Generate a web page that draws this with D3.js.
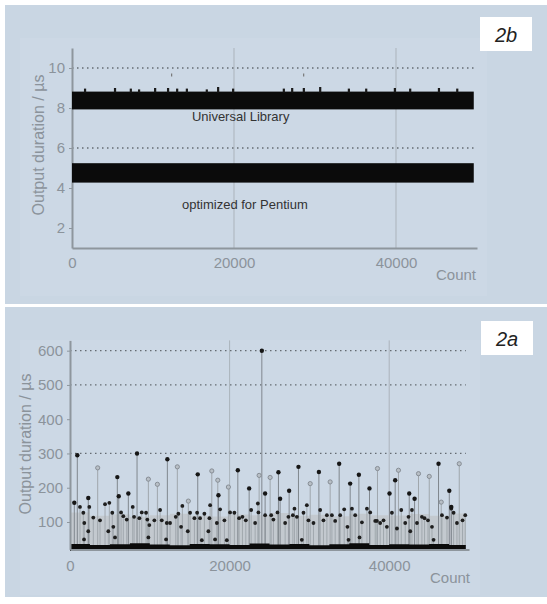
<!DOCTYPE html>
<html><head><meta charset="utf-8">
<script src="https://cdn.jsdelivr.net/npm/d3@7"></script>
<style>
body{margin:0;background:#fff;}
svg{display:block;font-family:"Liberation Sans",Arial,Helvetica,sans-serif;}
</style>
</head><body>
<svg id="c" width="547" height="604"></svg>
<script>
// ---------------- DATA ----------------
const xTicks = [0, 20000, 40000];
const vGridCounts = [20000, 40000];
const xLabel = "Count";
const yLabel = "Output duration / µs";

// Panel 2b (top)
const yTicksB = [2, 4, 6, 8, 10];
const gridB = [6, 10];
const universalRange = [7.93, 8.82];
const pentiumRange = [4.27, 5.24];
const bandEnd = 49600;
const ulSpikeCounts = [1600, 5300, 7250, 8270, 10250, 11850, 12970, 14170, 16630, 18030, 19880, 26140, 27170, 28610, 30630, 34170, 36310, 39850, 41740, 45290, 47550];
const ulSpikeValues = [8.97, 9.0, 8.97, 8.93, 9.0, 9.0, 8.97, 8.97, 8.93, 9.05, 8.97, 8.97, 9.0, 9.0, 9.05, 8.97, 8.97, 9.0, 8.97, 9.0, 8.97];
const ulOutlierCounts = [12300, 28600];
const ulOutlierValues = [9.65, 9.65];
const bandLabels = ["Universal Library", "optimized for Pentium"];
const bandLabelCounts = [14800, 13580];
const bandLabelValues = [7.33, 2.93];

// Panel 2a (bottom)
const yTicksA = [100, 200, 300, 400, 500, 600];
const gridA = [300, 500, 600];
const envCounts = [0, 2500, 5000, 7500, 10000, 12500, 15000, 17500, 20000, 22500, 25000, 27500, 30000, 32500, 35000, 37500, 40000, 42500, 45000, 47500, 49600];
const grayTop  = [128, 118, 122, 115, 120, 124, 118, 116, 122, 120, 126, 118, 121, 117, 124, 120, 119, 123, 118, 125, 125];
const floorTop = [36, 33, 35, 38, 34, 32, 36, 35, 33, 37, 34, 36, 32, 35, 38, 33, 35, 34, 36, 33, 33];
const floorLow = 15;

const darkCounts = [540, 915, 2290, 5930, 6110, 7310, 8400, 12200, 16010, 18600, 21030, 22450, 24040, 24450, 26120, 26330, 27460, 28630, 31190, 33730, 35110, 36200, 37530, 40040, 40750, 42510, 43180, 46180, 47530, 47780];
const darkValues = [156, 295, 170, 231, 175, 183, 300, 283, 239, 178, 251, 198, 600, 183, 245, 168, 191, 261, 246, 270, 212, 238, 198, 183, 222, 183, 168, 270, 191, 144];

const lightCounts = [3470, 9820, 10950, 13450, 14830, 17770, 18520, 19850, 23700, 25080, 30100, 32600, 38530, 41160, 43670, 45020, 46520, 48780];
const lightValues = [258, 225, 210, 261, 161, 249, 222, 202, 236, 230, 212, 217, 256, 251, 241, 233, 158, 270];

const midCounts = [1250, 1670, 1790, 1760, 2290, 2420, 2920, 3760, 4390, 4930, 4800, 5300, 5430, 5640, 6400, 6680, 7110, 7860, 8030, 8690, 8990, 9530, 9690, 9940, 9820, 10570, 11290, 11500, 12130, 12040,
  12540, 13250, 13580, 14080, 13920, 14760, 15050, 15590, 15930, 16300, 16520, 16840, 17340, 17470, 17560, 18180, 18400, 18810, 19350, 19650, 20060, 20600, 21190, 21610, 22030, 22700, 23200, 23610, 23540, 24450, 25210,
  25490, 26000, 26960, 27370, 27930, 28130, 28430, 29050, 29260, 29680, 29880, 30510, 31350, 31760, 32190, 32820, 33230, 33860, 34360, 34770, 34900, 35330, 35740, 36280, 36580, 37210, 37620, 38250,
  38460, 38870, 39290, 39710, 40340, 40970, 41510, 42010, 42420, 42640, 42850, 43480, 44100, 44430, 44860, 45360, 45560, 46610, 47240, 47780, 48070, 48490, 49190, 49530];
const midValues = [144, 127, 97, 49, 73, 144, 113, 105, 152, 156, 73, 127, 86, 55, 128, 117, 107, 144, 115, 111, 128, 127, 107, 91, 55, 105, 135, 105, 97, 49,
  97, 115, 124, 147, 86, 73, 127, 111, 127, 111, 47, 124, 73, 111, 149, 49, 97, 137, 105, 47, 128, 127, 111, 115, 105, 135, 97, 128, 154, 120, 120,
  107, 128, 97, 115, 120, 139, 115, 48, 127, 149, 105, 97, 135, 105, 120, 120, 103, 120, 137, 86, 48, 139, 120, 55, 99, 139, 128, 103,
  103, 97, 105, 86, 127, 81, 135, 97, 115, 73, 135, 97, 115, 111, 105, 86, 48, 120, 113, 139, 127, 97, 105, 120];

// ---------------- DRAW ----------------
const svg = d3.select("#c");
const outerBg = "#c9d6e3", innerBg = "#ccd8e5";
const tickColor = "#8b939b", axisColor = "#8e969d";

svg.append("rect").attr("width", 547).attr("height", 604).attr("fill", "#fff");
svg.append("rect").attr("x", 5).attr("y", 5).attr("width", 542).attr("height", 299).attr("fill", outerBg);
svg.append("rect").attr("x", 5).attr("y", 307).attr("width", 542).attr("height", 290).attr("fill", outerBg);
svg.append("rect").attr("x", 20).attr("y", 38).attr("width", 467).attr("height", 258).attr("fill", innerBg);
svg.append("rect").attr("x", 20).attr("y", 340).attr("width", 460).attr("height", 255).attr("fill", innerBg);

function styleAxis(g) {
  g.select(".domain").attr("stroke", axisColor).attr("stroke-width", 2);
  g.selectAll(".tick line").attr("stroke", axisColor).attr("stroke-width", 1);
  g.selectAll(".tick text").attr("fill", tickColor).attr("font-size", 15)
    .attr("font-family", '"Liberation Sans",Arial,sans-serif');
}

function panelTag(x, y, label) {
  svg.append("rect").attr("x", x).attr("y", y).attr("width", 52).attr("height", 34).attr("fill", "#fff");
  svg.append("text").attr("x", x + 26).attr("y", y + 25).attr("text-anchor", "middle")
    .attr("font-size", 20).attr("font-style", "italic").attr("fill", "#222").text(label);
}

// ===== Panel 2b =====
{
  const x = d3.scaleLinear().domain([0, 50000]).range([72, 477]);
  const y = d3.scaleLinear().domain([1, 11]).range([248, 48]);
  const g = svg.append("g");

  g.selectAll(".vg").data(vGridCounts).join("line")
    .attr("x1", d => x(d)).attr("x2", d => x(d)).attr("y1", y(11)).attr("y2", y(1))
    .attr("stroke", "#abb3bb").attr("stroke-width", 1);
  g.selectAll(".hg").data(gridB).join("line")
    .attr("x1", x(0)).attr("x2", x(50000)).attr("y1", d => y(d)).attr("y2", d => y(d))
    .attr("stroke", "#646b72").attr("stroke-width", 1.3).attr("stroke-dasharray", "1.5,3.5");

  const ya = g.append("g").attr("transform", `translate(${x(0)},0)`)
    .call(d3.axisLeft(y).tickValues(yTicksB).tickSize(3).tickSizeOuter(0).tickPadding(4));
  styleAxis(ya);
  const xa = g.append("g").attr("transform", `translate(0,${y(1)})`)
    .call(d3.axisBottom(x).tickValues(xTicks).tickSize(0).tickSizeOuter(0).tickPadding(9).tickFormat(d3.format("d")));
  styleAxis(xa);

  [universalRange, pentiumRange].forEach(r => {
    g.append("rect").attr("x", x(0)).attr("width", x(bandEnd) - x(0))
      .attr("y", y(r[1])).attr("height", y(r[0]) - y(r[1])).attr("fill", "#0b0b0b");
  });
  g.selectAll(".sp").data(ulSpikeCounts).join("rect")
    .attr("x", d => x(d) - 1).attr("width", 2.2)
    .attr("y", (d, i) => y(ulSpikeValues[i])).attr("height", (d, i) => y(universalRange[1]) - y(ulSpikeValues[i]) + 1)
    .attr("fill", "#1a1a1a");
  g.selectAll(".out").data(ulOutlierCounts).join("line")
    .attr("x1", d => x(d)).attr("x2", d => x(d))
    .attr("y1", (d, i) => y(ulOutlierValues[i]) - 1.5).attr("y2", (d, i) => y(ulOutlierValues[i]) + 1.5)
    .attr("stroke", "#777").attr("stroke-width", 1.2);

  g.selectAll(".bl").data(bandLabels).join("text")
    .attr("x", (d, i) => x(bandLabelCounts[i])).attr("y", (d, i) => y(bandLabelValues[i]))
    .attr("font-size", 13).attr("fill", "#333").text(d => d);

  g.append("text").attr("x", 476).attr("y", 280).attr("text-anchor", "end")
    .attr("font-size", 15).attr("fill", tickColor).text(xLabel);
  g.append("text").attr("transform", "translate(38,145) rotate(-90)").attr("text-anchor", "middle")
    .attr("dominant-baseline", "central").attr("font-size", 16).attr("fill", tickColor).text(yLabel);

  panelTag(480, 17, "2b");
}

// ===== Panel 2a =====
{
  const x = d3.scaleLinear().domain([0, 50000]).range([70, 469]);
  const y = d3.scaleLinear().domain([20, 630]).range([549.4, 340.4]);
  const g = svg.append("g");

  g.selectAll(".vg").data(vGridCounts).join("line")
    .attr("x1", d => x(d)).attr("x2", d => x(d)).attr("y1", y(630)).attr("y2", y(20))
    .attr("stroke", "#abb3bb").attr("stroke-width", 1);
  g.selectAll(".hg").data(gridA).join("line")
    .attr("x1", x(0)).attr("x2", x(49600)).attr("y1", d => y(d)).attr("y2", d => y(d))
    .attr("stroke", "#646b72").attr("stroke-width", 1.3).attr("stroke-dasharray", "1.5,3.5");

  const env = envCounts.map((c, i) => ({c, top: grayTop[i], fl: floorTop[i]}));
  g.append("path").datum(env)
    .attr("d", d3.area().curve(d3.curveStepAfter).x(d => x(d.c)).y0(y(20)).y1(d => y(d.top)))
    .attr("fill", "#c3c9cf");

  const stemBase = y(30);
  g.selectAll(".ms").data(midCounts).join("line")
    .attr("x1", d => x(d)).attr("x2", d => x(d)).attr("y1", stemBase).attr("y2", (d, i) => y(midValues[i]))
    .attr("stroke", "#a1a8ae").attr("stroke-width", 1);
  g.selectAll(".ls").data(lightCounts).join("line")
    .attr("x1", d => x(d)).attr("x2", d => x(d)).attr("y1", stemBase).attr("y2", (d, i) => y(lightValues[i]))
    .attr("stroke", "#9fa6ac").attr("stroke-width", 1);
  g.selectAll(".ds").data(darkCounts).join("line")
    .attr("x1", d => x(d)).attr("x2", d => x(d)).attr("y1", stemBase).attr("y2", (d, i) => y(darkValues[i]))
    .attr("stroke", "#80878e").attr("stroke-width", 1);

  g.append("path").datum(env)
    .attr("d", d3.area().curve(d3.curveStepAfter).x(d => x(d.c)).y0(y(floorLow)).y1(d => y(d.fl)))
    .attr("fill", "#0b0b0b");

  const ya = g.append("g").attr("transform", `translate(${x(0)},0)`)
    .call(d3.axisLeft(y).tickValues(yTicksA).tickSize(3).tickSizeOuter(0).tickPadding(4));
  styleAxis(ya);
  const xa = g.append("g").attr("transform", `translate(0,${y(20)})`)
    .call(d3.axisBottom(x).tickValues(xTicks).tickSize(0).tickSizeOuter(0).tickPadding(11).tickFormat(d3.format("d")));
  styleAxis(xa);

  g.selectAll(".mm").data(midCounts).join("circle")
    .attr("cx", d => x(d)).attr("cy", (d, i) => y(midValues[i])).attr("r", 1.9)
    .attr("fill", "#1e1e1e");
  g.selectAll(".lm").data(lightCounts).join("circle")
    .attr("cx", d => x(d)).attr("cy", (d, i) => y(lightValues[i])).attr("r", 2.1)
    .attr("fill", "#b8bfc6").attr("stroke", "#80878e").attr("stroke-width", 0.9);
  g.selectAll(".dm").data(darkCounts).join("circle")
    .attr("cx", d => x(d)).attr("cy", (d, i) => y(darkValues[i])).attr("r", 2.2)
    .attr("fill", "#161616");

  g.append("text").attr("x", 470).attr("y", 583).attr("text-anchor", "end")
    .attr("font-size", 15).attr("fill", tickColor).text(xLabel);
  g.append("text").attr("transform", "translate(25,444) rotate(-90)").attr("text-anchor", "middle")
    .attr("dominant-baseline", "central").attr("font-size", 16).attr("fill", tickColor).text(yLabel);

  panelTag(481, 321, "2a");
}
</script>
</body></html>
